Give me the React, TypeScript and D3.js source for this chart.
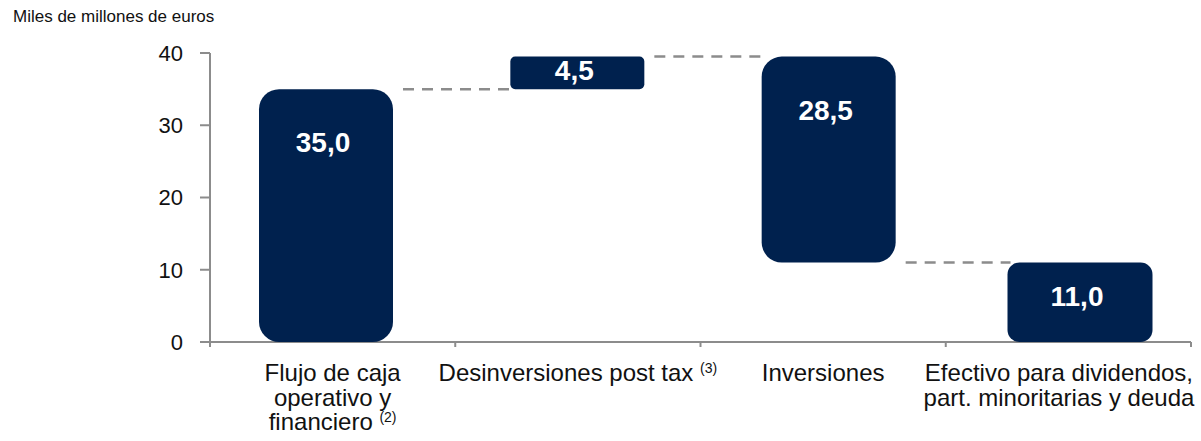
import React, { useEffect, useRef } from "react";
import * as d3 from "d3";

// ---- data ----
const categories = [
  "Flujo de caja operativo y financiero",
  "Desinversiones post tax",
  "Inversiones",
  "Efectivo para dividendos, part. minoritarias y deuda",
];
const categoryLines = [
  ["Flujo de caja", "operativo y", "financiero"],
  ["Desinversiones post tax"],
  ["Inversiones"],
  ["Efectivo para dividendos,", "part. minoritarias y deuda"],
];
const footnotes = ["(2)", "(3)", "", ""];
const kinds = ["total", "delta", "delta", "total"];
const values = [35.0, 4.5, -28.5, 11.0];
const yTicks = [0, 10, 20, 30, 40];
const unitLabel = "Miles de millones de euros";

// ---- style ----
const W = 1201;
const H = 441;
const FONT = "'Liberation Sans', Arial, Helvetica, sans-serif";
const NAVY = "#00214e";
const GRAY = "#8c8c8c";
const barWidths = [134, 134, 134, 145];

export default function App() {
  const ref = useRef<SVGSVGElement | null>(null);

  useEffect(() => {
    const svg = d3.select(ref.current);
    svg.selectAll("*").remove();

    const y = d3.scaleLinear().domain([0, 40]).range([342, 53]);
    const xAxis = d3.scaleBand().domain(categories).range([210, 1191]).padding(0);
    const xBar = d3.scalePoint().domain(categories).range([326, 1080]);

    // compute waterfall segments
    let running = 0;
    const segs = values.map((v, i) => {
      let lo: number, hi: number;
      if (kinds[i] === "total") {
        lo = 0;
        hi = v;
        running = v;
      } else {
        const next = running + v;
        lo = Math.min(running, next);
        hi = Math.max(running, next);
        running = next;
      }
      return { cat: categories[i], lo, hi, v, level: running };
    });

    // unit label
    svg
      .append("text")
      .attr("x", 13)
      .attr("y", 22)
      .attr("font-family", FONT)
      .attr("font-size", 17)
      .attr("fill", "#111")
      .text(unitLabel);

    // axes
    const g = svg.append("g");
    g.append("line")
      .attr("x1", 210)
      .attr("x2", 210)
      .attr("y1", y(40))
      .attr("y2", y(0) + 3)
      .attr("stroke", GRAY)
      .attr("stroke-width", 2);
    yTicks.forEach((t) => {
      g.append("line")
        .attr("x1", 200)
        .attr("x2", 210)
        .attr("y1", y(t))
        .attr("y2", y(t))
        .attr("stroke", GRAY)
        .attr("stroke-width", 2);
      g.append("text")
        .attr("x", 183)
        .attr("y", y(t))
        .attr("dy", "0.36em")
        .attr("text-anchor", "end")
        .attr("font-family", FONT)
        .attr("font-size", 22)
        .attr("fill", "#111")
        .text(String(t));
    });
    g.append("line")
      .attr("x1", 210)
      .attr("x2", 1191)
      .attr("y1", y(0))
      .attr("y2", y(0))
      .attr("stroke", GRAY)
      .attr("stroke-width", 2);
    const bounds = categories.map((c) => xAxis(c)!).concat([xAxis.range()[1]]);
    bounds.forEach((bx) => {
      g.append("line")
        .attr("x1", bx)
        .attr("x2", bx)
        .attr("y1", y(0))
        .attr("y2", y(0) + 5)
        .attr("stroke", GRAY)
        .attr("stroke-width", 2);
    });

    // bars
    const fmt = (v: number) => d3.format(".1f")(Math.abs(v)).replace(".", ",");
    const barGeom = segs.map((s, i) => {
      const w = barWidths[i];
      const cx = xBar(s.cat)!;
      const top = y(s.hi);
      const bot = y(s.lo);
      return { x0: cx - w / 2, x1: cx + w / 2, top, bot, cx, h: bot - top, w };
    });

    segs.forEach((s, i) => {
      const b = barGeom[i];
      const r = 0.15 * Math.min(b.w, b.h);
      svg
        .append("rect")
        .attr("x", b.x0)
        .attr("y", b.top)
        .attr("width", b.w)
        .attr("height", b.h)
        .attr("rx", r)
        .attr("ry", r)
        .attr("fill", NAVY);
      const cy = b.top + Math.min(0.42 * b.h, 53);
      svg
        .append("text")
        .attr("x", b.cx - 3)
        .attr("y", cy)
        .attr("dy", "0.36em")
        .attr("text-anchor", "middle")
        .attr("font-family", FONT)
        .attr("font-weight", "bold")
        .attr("font-size", 28)
        .attr("fill", "#fff")
        .text(fmt(s.v));
    });

    // connectors
    for (let i = 0; i < segs.length - 1; i++) {
      const lvl = segs[i].level;
      svg
        .append("line")
        .attr("x1", barGeom[i].x1 + 10)
        .attr("x2", barGeom[i + 1].x0 + 3)
        .attr("y1", y(lvl))
        .attr("y2", y(lvl))
        .attr("stroke", GRAY)
        .attr("stroke-width", 2.5)
        .attr("stroke-dasharray", "11,8");
    }

    // category labels
    categoryLines.forEach((lines, i) => {
      const cx = xAxis(categories[i])! + xAxis.bandwidth() / 2;
      const t = svg
        .append("text")
        .attr("x", cx)
        .attr("text-anchor", "middle")
        .attr("font-family", FONT)
        .attr("font-size", 24)
        .attr("fill", "#111");
      lines.forEach((ln, j) => {
        t.append("tspan")
          .attr("x", cx)
          .attr("y", 381 + j * 24.5)
          .text(ln);
        if (j === lines.length - 1 && footnotes[i]) {
          t.append("tspan").text("\u00a0");
          t.append("tspan")
            .attr("font-size", 14)
            .attr("dy", -8)
            .text(footnotes[i]);
        }
      });
      // clamp inside right edge
      const node = t.node() as SVGTextElement;
      const bb = node.getBBox();
      const maxRight = W - 6;
      if (bb.x + bb.width > maxRight) {
        const shift = bb.x + bb.width - maxRight;
        t.attr("transform", `translate(${-shift},0)`);
      }
    });
  }, []);

  return (
    <div style={{ position: "absolute", left: 0, top: 0 }}>
      <svg ref={ref} width={W} height={H} style={{ display: "block", background: "#fff" }} />
    </div>
  );
}
